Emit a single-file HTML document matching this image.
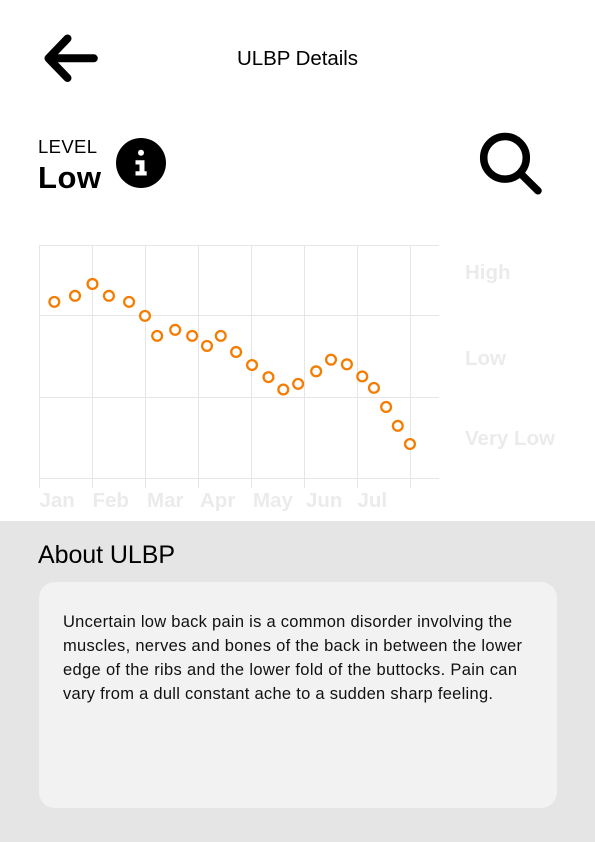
<!DOCTYPE html>
<html lang="en">
<head>
<meta charset="utf-8">
<title>ULBP Details</title>
<style>
html,body{margin:0;padding:0;background:#fff;width:595px;height:842px;overflow:hidden}
svg{display:block}
text{font-family:"Liberation Sans",sans-serif}
.body-line{font-size:16.500px;fill:#111}
.axis-label{font-size:20.500px;font-weight:700;fill:#ebebeb}
</style>
</head>
<body>
<svg id="page" width="595" height="842" viewBox="0 0 595 842" xmlns="http://www.w3.org/2000/svg">
  <rect x="0" y="0" width="595" height="842" fill="#ffffff"/>

  <g fill="none" stroke="#000" stroke-width="8" stroke-linecap="round" stroke-linejoin="round">
    <path d="M93.800 58.300H49M67.500 38.500L48.500 58.300L67.500 78"/>
  </g>
  <text x="237" y="65" font-size="20.500" fill="#000" textLength="121" lengthAdjust="spacing">ULBP Details</text>

  <text x="38" y="153" font-size="18.500" fill="#000" textLength="59" lengthAdjust="spacing">LEVEL</text>
  <text x="38" y="188" font-size="31" font-weight="700" fill="#000" textLength="63" lengthAdjust="spacing">Low</text>

  <g>
    <circle cx="141" cy="163" r="25" fill="#000"/>
    <circle cx="141" cy="152.800" r="3" fill="#fff"/>
    <path d="M135.500 160.300H144.500V171.300H146.700V175.500H135.500V171.300H139.500V164.500H135.500Z" fill="#fff"/>
  </g>

  <g fill="none" stroke="#000" stroke-width="7.500" stroke-linecap="round">
    <circle cx="505" cy="157.800" r="21.300"/>
    <path d="M521 174L538 190.800"/>
  </g>

  <g id="chart"></g>

  <rect x="0" y="521" width="595" height="321" fill="#e5e5e5"/>
  <text x="38" y="563" font-size="25" fill="#000" textLength="137" lengthAdjust="spacing">About ULBP</text>
  <rect x="39" y="582" width="518" height="226" rx="16" ry="16" fill="#f2f2f2"/>
  <g>
    <text class="body-line" x="63" y="627" textLength="449" lengthAdjust="spacing">Uncertain low back pain is a common disorder involving the</text>
    <text class="body-line" x="63" y="651" textLength="459" lengthAdjust="spacing">muscles, nerves and bones of the back in between the lower</text>
    <text class="body-line" x="63" y="675" textLength="454" lengthAdjust="spacing">edge of the ribs and the lower fold of the buttocks. Pain can</text>
    <text class="body-line" x="63" y="699" textLength="430" lengthAdjust="spacing">vary from a dull constant ache to a sudden sharp feeling.</text>
  </g>
</svg>

<script>
// Chart data: month position (0 = Jan gridline) and level score (0-100)
var months = ["Jan", "Feb", "Mar", "Apr", "May", "Jun", "Jul"];
var levelNames = ["High", "Low", "Very Low"];
var levelLabelScores = [85.6, 48.7, 14.4];
var levelBoundaries = [100, 70, 34.8, 0];
var pointMonths = [0.28, 0.67, 1.00, 1.31, 1.69, 1.99, 2.22, 2.56, 2.88, 3.16, 3.42, 3.71, 4.01, 4.32, 4.60, 4.88, 5.22, 5.50, 5.80, 6.09, 6.31, 6.54, 6.76, 6.99];
var pointLevels = [75.8, 78.4, 83.5, 78.4, 75.8, 69.8, 61.2, 63.8, 61.2, 56.9, 61.2, 54.3, 48.7, 43.5, 38.2, 40.6, 46.0, 51.0, 49.0, 43.8, 38.9, 30.7, 22.6, 14.8];

// Axis functions
function xScale(month) { return 39.5 + month * 53; }
function yScale(level) {
  return 478.5 - level * 2.33;
}

var SVG_NS = "http://www.w3.org/2000/svg";
var chart = document.getElementById("chart");

function make(tag, attrs) {
  var el = document.createElementNS(SVG_NS, tag);
  for (var k in attrs) { el.setAttribute(k, attrs[k]); }
  return el;
}

levelBoundaries.forEach(function (b) {
  var y = Math.round(yScale(b) - 0.5) + 0.5;
  var line = make("line", { x1: 39, x2: 439, y1: y, y2: y, stroke: "#e6e6e6", "stroke-width": 1 });
  
  
  chart.appendChild(line);
});

for (var m = 0; m <= months.length; m++) {
  var vx = xScale(m);
  var vline = make("line", { x1: vx, x2: vx, y1: 245, y2: 488, stroke: "#e6e6e6", "stroke-width": 1 });
  
  
  chart.appendChild(vline);
}

months.forEach(function (name, i) {
  var label = make("text", { x: xScale(i) + (i >= 2 && i < 6 ? 1.5 : 0), y: 507, "class": "axis-label" });
  label.textContent = name;
  
  
  chart.appendChild(label);
});

levelNames.forEach(function (name, i) {
  var label = make("text", { x: 465, y: yScale(levelLabelScores[i]), "class": "axis-label" });
  label.textContent = name;
  
  
  chart.appendChild(label);
});

pointMonths.forEach(function (mVal, i) {
  var dot = make("circle", { cx: xScale(mVal), cy: yScale(pointLevels[i]), r: 4.9, fill: "#fff", stroke: "#f57c00", "stroke-width": 2.3 });
  
  
  chart.appendChild(dot);
});
</script>
</body>
</html>
